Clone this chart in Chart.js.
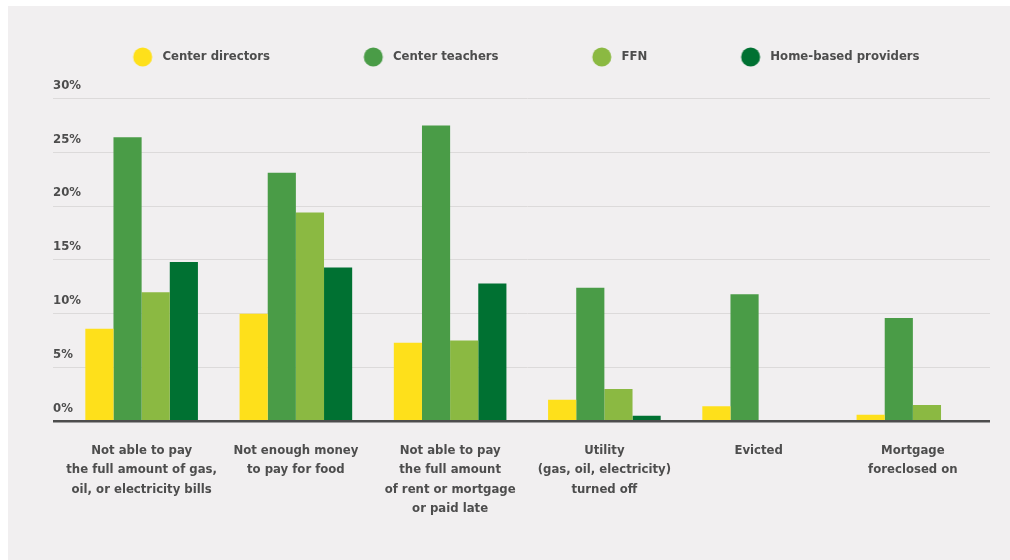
<!DOCTYPE html>
<html>
<head>
<meta charset="utf-8">
<script src="https://cdn.jsdelivr.net/npm/chart.js@4.4.0/dist/chart.umd.min.js"></script>
<style>
  html, body { margin: 0; padding: 0; background: #ffffff; }
  .panel { position: absolute; left: 8px; top: 6px; width: 1002px; height: 554px; background: #f1eff0; }
</style>
</head>
<body>
<div class="panel"><canvas id="chart" width="1002" height="554"></canvas></div>
<script>
// categories, one entry per group (lines of the label)
const categories = [
  ['Not able to pay', 'the full amount of gas,', 'oil, or electricity bills'],
  ['Not enough money', 'to pay for food'],
  ['Not able to pay', 'the full amount', 'of rent or mortgage', 'or paid late'],
  ['Utility', '(gas, oil, electricity)', 'turned off'],
  ['Evicted'],
  ['Mortgage', 'foreclosed on']
];
const seriesNames = ['Center directors', 'Center teachers', 'FFN', 'Home-based providers'];
const centerDirectors = [8.6, 10.0, 7.3, 2.0, 1.4, 0.6];
const centerTeachers = [26.4, 23.1, 27.5, 12.4, 11.8, 9.6];
const ffn = [12.0, 19.4, 7.5, 3.0, 0, 1.5];
const homeBased = [14.8, 14.3, 12.8, 0.5, 0, 0];
const yTicks = [0, 5, 10, 15, 20, 25, 30];

const colors = ['#fee01b', '#4a9c47', '#8bb942', '#007132'];
const textColor = '#4d4d4d';
const fontFamily = "'Liberation Sans Narrow', 'DejaVu Sans Condensed', Roboto, sans-serif";

// legend marker: blank space on the left + circle, so the gaps match the original
const LEAD = 54.5;
function marker(color) {
  const c = document.createElement('canvas');
  c.width = LEAD + 23;
  c.height = 20;
  const ctx = c.getContext('2d');
  ctx.fillStyle = color;
  ctx.beginPath();
  ctx.arc(LEAD + 9.5, 10, 9.5, 0, Math.PI * 2);
  ctx.fill();
  return c;
}

const seriesData = [centerDirectors, centerTeachers, ffn, homeBased];

new Chart(document.getElementById('chart'), {
  type: 'bar',
  data: {
    labels: categories,
    datasets: seriesData.map((d, i) => ({
      label: seriesNames[i],
      data: d,
      backgroundColor: colors[i],
      pointStyle: marker(colors[i]),
      barPercentage: 1,
      categoryPercentage: 0.73
    }))
  },
  options: {
    responsive: false,
    animation: false,
    layout: { padding: { left: 0, right: 20, top: 5.5, bottom: 21.8 } },
    plugins: {
      tooltip: { enabled: false },
      legend: {
        position: 'top',
        labels: {
          usePointStyle: true,
          pointStyleWidth: LEAD + 23,
          padding: 39,
          color: textColor,
          font: { family: fontFamily, size: 13, weight: 'bold' }
        }
      },
      // empty title between legend and plot, only used as a spacer
      title: {
        display: true,
        text: '',
        weight: 500,
        padding: 0,
        font: { size: 25, lineHeight: 1 }
      }
    },
    scales: {
      x: {
        grid: { display: false, drawTicks: false },
        border: { display: false },
        ticks: {
          color: textColor,
          padding: 20,
          maxRotation: 0,
          autoSkip: false,
          font: { family: fontFamily, size: 13, weight: 'bold', lineHeight: 1.48 }
        }
      },
      y: {
        min: 0,
        max: 30,
        afterBuildTicks: (scale) => { scale.ticks = yTicks.map(v => ({ value: v })); },
        afterFit: (scale) => { scale.width = 56.5; },
        border: { display: false },
        grid: {
          tickLength: 11.5,
          color: (ctx) => ctx.tick && ctx.tick.value === 0 ? '#4d4d4d' : '#dcdada',
          lineWidth: (ctx) => ctx.tick && ctx.tick.value === 0 ? 2.5 : 1
        },
        ticks: {
          mirror: true,
          padding: -11.5,
          labelOffset: -13,
          color: textColor,
          font: { family: fontFamily, size: 13, weight: 'bold' },
          callback: (v) => v + '%'
        }
      }
    }
  }
});
</script>
</body>
</html>
